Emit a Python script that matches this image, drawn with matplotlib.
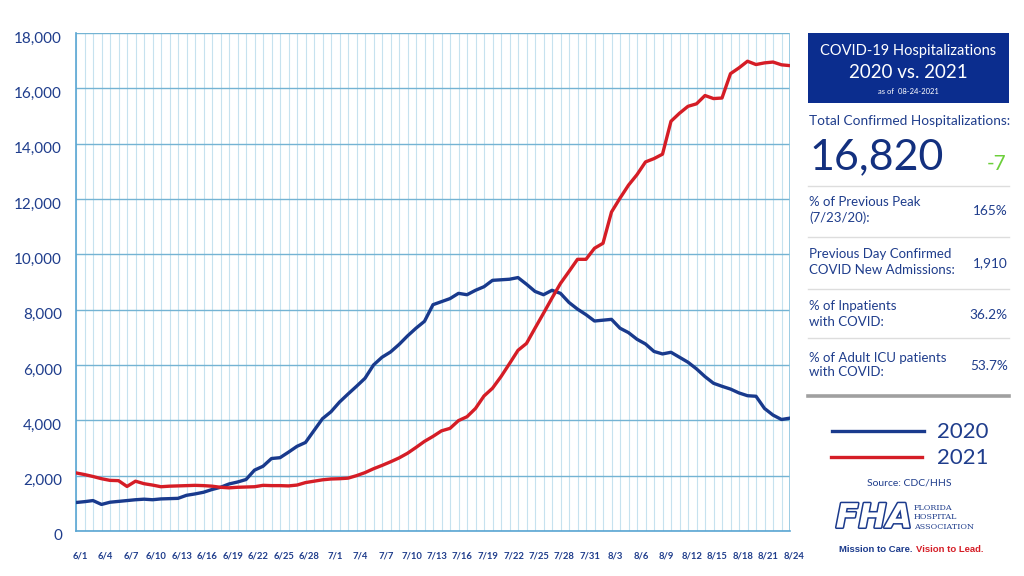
import matplotlib
matplotlib.use("Agg")
import matplotlib.pyplot as plt
import matplotlib.patheffects as pe
from matplotlib.lines import Line2D
from matplotlib.patches import Rectangle
import matplotlib.transforms as mtransforms

plt.rcParams['font.family'] = ['Lato', 'DejaVu Sans']

# ---------------- data ----------------
hosp_2020 = [1030, 1060, 1100, 960, 1040, 1070, 1100, 1130, 1150, 1130,
             1160, 1170, 1180, 1290, 1340, 1400, 1500, 1580, 1700, 1770,
             1860, 2200, 2340, 2620, 2650, 2850, 3060, 3200, 3630, 4060,
             4310, 4660, 4950, 5230, 5520, 6000, 6280, 6470, 6740, 7050,
             7330, 7580, 8180, 8290, 8400, 8590, 8540, 8700, 8830, 9060,
             9080, 9100, 9160, 8920, 8660, 8540, 8700, 8590, 8260, 8020,
             7820, 7590, 7620, 7650, 7330, 7170, 6930, 6760, 6490, 6400,
             6460, 6280, 6100, 5860, 5580, 5340, 5230, 5130, 4990, 4890,
             4870, 4430, 4190, 4030, 4080]
hosp_2021 = [2100, 2040, 1970, 1890, 1830, 1820, 1610, 1800, 1710, 1660,
             1600, 1620, 1630, 1640, 1650, 1640, 1620, 1580, 1560, 1580,
             1590, 1600, 1650, 1640, 1640, 1630, 1660, 1750, 1800, 1850,
             1880, 1890, 1910, 2000, 2110, 2250, 2370, 2500, 2640, 2810,
             3020, 3240, 3420, 3620, 3710, 3990, 4130, 4430, 4880, 5160,
             5580, 6050, 6530, 6780, 7330, 7870, 8420, 8950, 9380, 9820,
             9820, 10220, 10400, 11530, 12030, 12500, 12880, 13340, 13460, 13620,
             14810, 15100, 15350, 15440, 15740, 15630, 15650, 16530, 16740, 16980,
             16860, 16920, 16950, 16850, 16820]
tick_labels = ["6/1", "6/4", "6/7", "6/10", "6/13", "6/16", "6/19", "6/22", "6/25",
               "6/28", "7/1", "7/4", "7/7", "7/10", "7/13", "7/16", "7/19", "7/22",
               "7/25", "7/28", "7/31", "8/3", "8/6", "8/9", "8/12", "8/15", "8/18",
               "8/21", "8/24"]
y_ticks = [0, 2000, 4000, 6000, 8000, 10000, 12000, 14000, 16000, 18000]

stats_labels = ["% of Previous Peak\n(7/23/20):",
                "Previous Day Confirmed\nCOVID New Admissions:",
                "% of Inpatients\nwith COVID:",
                "% of Adult ICU patients\nwith COVID:"]
stats_values = ["165%", "1,910", "36.2%", "53.7%"]
total_value = "16,820"
total_change = "-7"
series_names = ["2020", "2021"]

# ---------------- styles ----------------
W, H = 1024, 576
NAVY = "#1c3a8c"
BLUE_LINE = "#193a8d"
RED_LINE = "#d51d26"
HGRID = "#74b3d3"
VGRID = "#c6e2ef"
TXT = "#1f3d8c"

fig = plt.figure(figsize=(W / 100, H / 100), dpi=100)
fig.patch.set_facecolor("white")


def fx(px):
    return px / W


def fy(py):
    return 1 - py / H


ax = fig.add_axes([fx(76), fy(531), fx(790) - fx(76), fy(33) - fy(531)])
n = len(hosp_2020)
x = list(range(n))

ax.set_xlim(0, n - 1)
ax.set_ylim(0, 18000)

tick_pos = x[::3]
ax.set_xticks(tick_pos)
ax.set_xticks(x, minor=True)
ax.set_yticks(y_ticks)
ax.xaxis.grid(True, which="both", color=VGRID, linewidth=0.8)
ax.yaxis.grid(True, which="major", color=HGRID, linewidth=1.0)
ax.set_axisbelow(True)

ax.plot(x, hosp_2020, color=BLUE_LINE, linewidth=2.4, solid_joinstyle="round", zorder=3)
ax.plot(x, hosp_2021, color=RED_LINE, linewidth=2.4, solid_joinstyle="round", zorder=3)

ax.set_xticklabels(tick_labels, fontsize=6.8, color=TXT, fontweight="bold")
ax.set_yticklabels([f"{v:,}" for v in y_ticks], fontsize=11, color=TXT)
ax.tick_params(axis="x", which="both", length=0, pad=15)
ax.tick_params(axis="y", which="both", length=0, pad=10)
offset = mtransforms.ScaledTranslation(4 / 100, 0, fig.dpi_scale_trans)
for lab in ax.get_xticklabels():
    lab.set_transform(lab.get_transform() + offset)
offy = mtransforms.ScaledTranslation(0, -4 / 100, fig.dpi_scale_trans)
for lab in ax.get_yticklabels():
    lab.set_transform(lab.get_transform() + offy)

for side in ["top", "right"]:
    ax.spines[side].set_visible(False)
ax.spines["left"].set_color("#5aa6d3")
ax.spines["bottom"].set_color("#5aa6d3")
ax.spines["left"].set_linewidth(1.2)
ax.spines["bottom"].set_linewidth(1.2)
ax.axvline(n - 1, color="#8cc4df", linewidth=1.2, zorder=1)

# ---------------- right panel ----------------
fig.add_artist(Rectangle((fx(808), fy(103)), fx(1009) - fx(808), fy(33) - fy(103),
                         transform=fig.transFigure, facecolor="#0b2d8e", edgecolor="none"))
fig.text(fx(908.5), fy(51), "COVID-19 Hospitalizations", color="white", fontsize=10.5,
         ha="center", va="center")
fig.text(fx(908.5), fy(73), "2020 vs. 2021", color="white", fontsize=13.5,
         ha="center", va="center")
fig.text(fx(908.5), fy(91), "as of  08-24-2021", color="white", fontsize=5.5,
         ha="center", va="center")

fig.text(fx(809), fy(121), "Total Confirmed Hospitalizations:", color=TXT, fontsize=9.8,
         ha="left", va="center")
fig.text(fx(809), fy(157), total_value, color="#13307f", fontsize=31,
         ha="left", va="center")
fig.text(fx(1007), fy(164), total_change, color="#6ccf3a", fontsize=15,
         ha="right", va="center")

sep_y = [186, 237, 289, 338]
for sy in sep_y:
    fig.add_artist(Line2D([fx(808), fx(1009)], [fy(sy), fy(sy)], color="#dddddd",
                          linewidth=1.0, transform=fig.transFigure))
fig.add_artist(Line2D([fx(808), fx(1009)], [fy(396), fy(396)], color="#a0a0a0",
                      linewidth=2.6, transform=fig.transFigure))

row_y = [210, 262, 314, 365]
for lab, val, ry in zip(stats_labels, stats_values, row_y):
    fig.text(fx(809), fy(ry), lab, color=TXT, fontsize=9.5, ha="left", va="center",
             linespacing=1.3)
    fig.text(fx(1008), fy(ry + 1), val, color=TXT, fontsize=9.8, ha="right", va="center")

# legend
fig.add_artist(Line2D([fx(832), fx(924)], [fy(431), fy(431)], color=BLUE_LINE,
                      linewidth=2.4, transform=fig.transFigure))
fig.add_artist(Line2D([fx(831), fx(922)], [fy(457), fy(457)], color=RED_LINE,
                      linewidth=2.4, transform=fig.transFigure))
fig.text(fx(937), fy(432), series_names[0], color=TXT, fontsize=16, ha="left", va="center")
fig.text(fx(937), fy(458), series_names[1], color=TXT, fontsize=16, ha="left", va="center")

fig.text(fx(909), fy(483), "Source: CDC/HHS", color=TXT, fontsize=7.5, ha="center",
         va="center")

# FHA logo (text approximation)
fig.text(fx(874), fy(518), "FHA", color="white", fontsize=24, fontweight="black",
         fontstyle="italic", ha="center", va="center", family=["DejaVu Sans"],
         path_effects=[pe.withStroke(linewidth=2.2, foreground="#1b3a8c")])
for txt, yy in zip(["FLORIDA", "HOSPITAL", "ASSOCIATION"], [508, 517, 527]):
    fig.text(fx(914), fy(yy), txt, color=TXT, fontsize=5.8, family=["DejaVu Serif"],
             ha="left", va="center")
fig.text(fx(839), fy(550), "Mission to Care.", color="#1b3a8c", fontsize=6.8,
         fontweight="bold", ha="left", va="center", family=["Liberation Sans"])
fig.text(fx(916), fy(550), "Vision to Lead.", color="#d51d26", fontsize=6.8,
         fontweight="bold", ha="left", va="center", family=["Liberation Sans"])

fig.savefig("out.png", dpi=100, facecolor="white")
